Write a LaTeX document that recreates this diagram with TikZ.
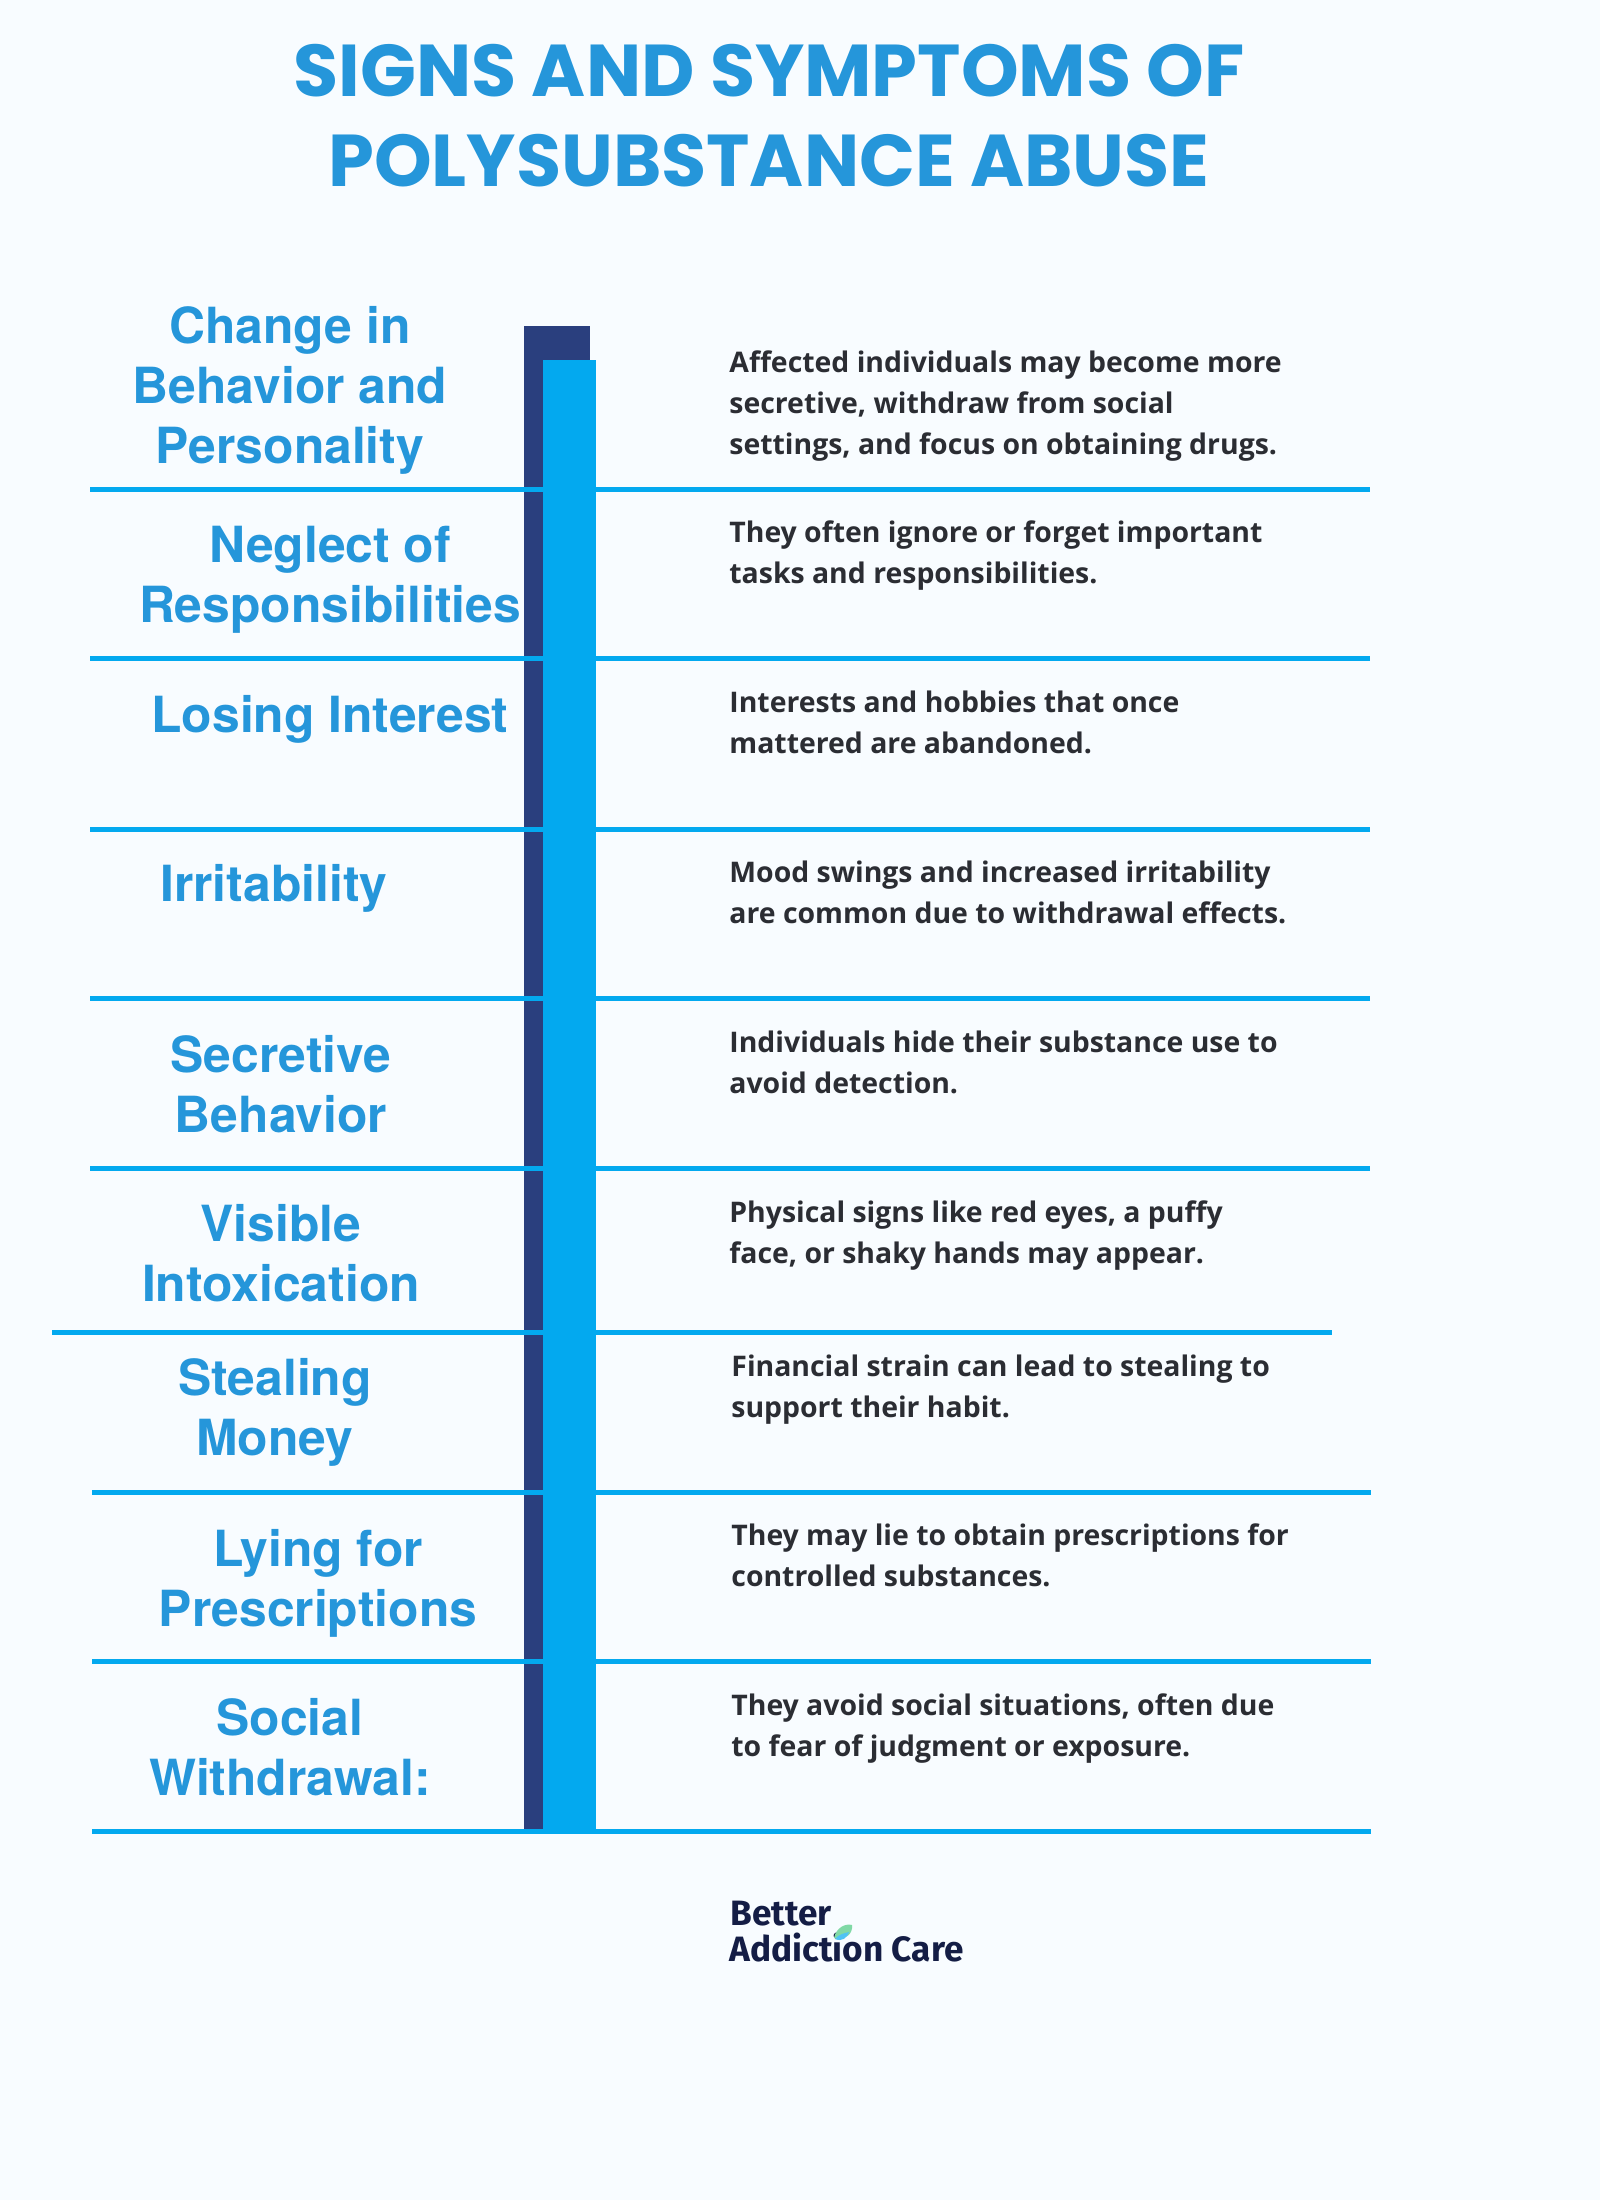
\documentclass[tikz,border=0pt]{standalone}
\usepackage{fontspec}
\setmainfont{TeX Gyre Heros}
\newfontfamily\titlefont{Poppins}[BoldFont={Poppins Bold}]
\newfontfamily\bodyfont{Open Sans}
\newfontfamily\logofont{Fira Sans}
\definecolor{bgc}{HTML}{F8FCFF}
\definecolor{headc}{HTML}{2596DA}
\definecolor{linec}{HTML}{03A9EF}
\definecolor{darkbar}{HTML}{2A3F7E}
\definecolor{bodyc}{HTML}{2B2D33}
\definecolor{logoc}{HTML}{141D45}
\newcommand{\headtxt}[1]{\parbox[t]{300pt}{\centering\fontsize{24.9}{30}\selectfont\bfseries #1}}
\newcommand{\bodytxt}[1]{\parbox[t]{320pt}{\raggedright\fontsize{14.2}{20.5}\selectfont\bodyfont\bfseries #1}}
\tikzset{
  x=0.5pt,y=-0.5pt,
  head/.style={anchor=base,inner sep=0pt,text=headc},
  body/.style={anchor=base west,inner sep=0pt,text=bodyc},
  sep/.style={draw=linec,line width=2.5pt},
}
\begin{document}
\begin{tikzpicture}
\useasboundingbox (0,0) rectangle (1600,2200);
\fill[bgc] (0,0) rectangle (1600,2200);
\node[head,text=headc] (title) at (769,96) {\parbox[t]{700pt}{\centering\fontsize{36.7}{45}\selectfont\titlefont\bfseries SIGNS AND SYMPTOMS OF\\POLYSUBSTANCE ABUSE}};
\fill[darkbar] (523.5,326) rectangle (590,1832);
\foreach \n/\xa/\xb/\yy in {a/90/1370/489,b/90/1370/658,c/90/1370/829,d/90/1370/998,e/90/1370/1168,g/52/1332/1332,h/92/1371/1492,i/92/1371/1661,j/92/1371/1831}{
  \coordinate (l\n) at (\xa,\yy);
  \coordinate (r\n) at (\xb,\yy);
  \draw[sep] (l\n) -- (r\n);
}
\fill[linec] (543,360) rectangle (596,1832);
\node[head] (h1) at (290,343) {\headtxt{Change in\\Behavior and\\Personality}};
\node[head] (h2) at (330,562) {\headtxt{Neglect of\\Responsibilities}};
\node[head] (h3) at (330,732) {\headtxt{Losing Interest}};
\node[head] (h4) at (274,901) {\headtxt{Irritability}};
\node[head] (h5) at (281,1072) {\headtxt{Secretive\\Behavior}};
\node[head] (h6) at (281,1241) {\headtxt{Visible\\Intoxication}};
\node[head] (h7) at (275,1395) {\headtxt{Stealing\\Money}};
\node[head] (h8) at (318,1566) {\headtxt{Lying for\\Prescriptions}};
\node[head] (h9) at (290,1735) {\headtxt{Social\\Withdrawal:}};
\node[body] (b1) at (729,372) {\bodytxt{Affected individuals may become more\\secretive, withdraw from social\\settings, and focus on obtaining drugs.}};
\node[body] (b2) at (729,542) {\bodytxt{They often ignore or forget important\\tasks and responsibilities.}};
\node[body] (b3) at (729,712) {\bodytxt{Interests and hobbies that once\\mattered are abandoned.}};
\node[body] (b4) at (729,882) {\bodytxt{Mood swings and increased irritability\\are common due to withdrawal effects.}};
\node[body] (b5) at (729,1052) {\bodytxt{Individuals hide their substance use to\\avoid detection.}};
\node[body] (b6) at (729,1222) {\bodytxt{Physical signs like red eyes, a puffy\\face, or shaky hands may appear.}};
\node[body] (b7) at (731,1376) {\bodytxt{Financial strain can lead to stealing to\\support their habit.}};
\node[body] (b8) at (731,1545) {\bodytxt{They may lie to obtain prescriptions for\\controlled substances.}};
\node[body] (b9) at (731,1715) {\bodytxt{They avoid social situations, often due\\to fear of judgment or exposure.}};
\node[anchor=base west,inner sep=0pt,text=logoc] (logo1) at (730,1925) {\fontsize{17.6}{20}\selectfont\logofont\bfseries Better};
\node[anchor=base west,inner sep=0pt,text=logoc] (logo2) at (729,1961) {\fontsize{17.6}{20}\selectfont\logofont\bfseries Addiction Care};
\fill[teal!60!green!50] (834,1938) .. controls (836,1928) and (845,1923) .. (852,1925) .. controls (853,1934) and (846,1940) .. (834,1938) -- cycle;
\fill[linec!70] (835,1939) .. controls (839,1934) and (845,1933) .. (849,1932) .. controls (847,1938) and (842,1942) .. (835,1939) -- cycle;
\end{tikzpicture}
\end{document}
